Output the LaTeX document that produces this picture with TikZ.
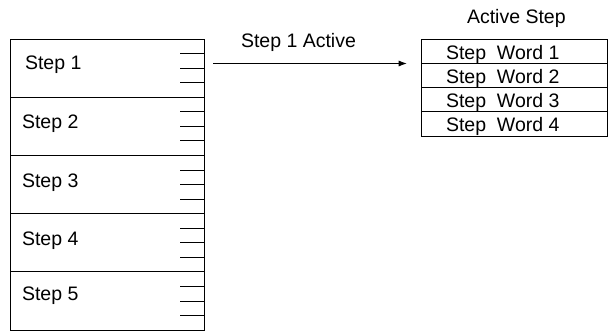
\documentclass[tikz,border=0pt]{standalone}
\usepackage{fontspec}
\setmainfont{Liberation Sans}
\usetikzlibrary{arrows.meta}
\begin{document}
\begin{tikzpicture}[x=1pt,y=-1pt,
  every node/.style={inner sep=0pt,outer sep=0pt},
  txt/.style={anchor=base west,font=\fontsize{19.5}{23}\selectfont},
  stepbox/.style={draw,line width=0.8pt,anchor=north west,minimum width=194pt,minimum height=58.2pt},
  wordbox/.style={draw,line width=0.8pt,anchor=north west,minimum width=185.5pt,minimum height=24.2pt},
  tick/.style={line width=0.8pt},
  flow/.style={line width=0.8pt,-{Latex[length=8pt,width=6pt]}}]
\useasboundingbox (0,0) rectangle (609,331);

% step list on the left
\foreach \i/\tx/\bx in {1/25/30.3,2/22/31.8,3/22/31.7,4/22/32,5/22/28.5}{
  \node[stepbox] (s\i) at (10,{39+58.2*(\i-1)}) {};
  \node[txt] (t\i) at ([xshift=\tx pt-10pt,yshift=-\bx pt]s\i.north west) {Step \i};
  \foreach \q in {1,2,3}
    \draw[tick] ([yshift={-14.55pt*\q}]s\i.north east) -- ++(-24,0);
}

% active step words on the right
\node[txt] (title) at (467,24) {Active Step};
\foreach \i in {1,2,3,4}{
  \node[wordbox] (w\i) at (421.7,{39.3+24.2*(\i-1)}) {};
  \node[txt] (wt\i) at ([xshift=24.3pt,yshift=-20pt]w\i.north west) {Step\ \ Word \i};
}

% transfer arrow
\coordinate (a) at (213,63.5);
\draw[flow,shorten >=15pt] (a) -- (w1.south west);
\node[txt] (lbl) at (241,47.3) {Step 1 Active};
\end{tikzpicture}
\end{document}
